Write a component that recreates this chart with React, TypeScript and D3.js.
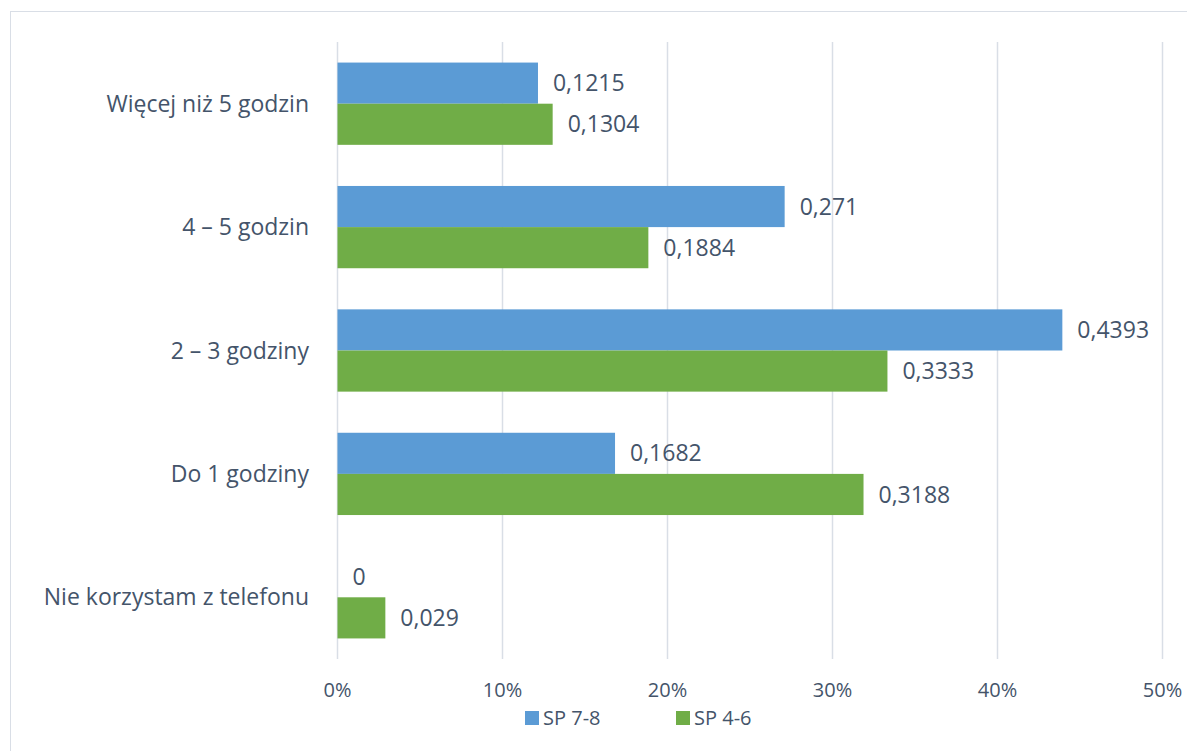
import React from "react";
import * as d3 from "d3";

const categories = [
  "Więcej niż 5 godzin",
  "4 – 5 godzin",
  "2 – 3 godziny",
  "Do 1 godziny",
  "Nie korzystam z telefonu",
];
const seriesNames = ["SP 7-8", "SP 4-6"];
const sp78 = [0.1215, 0.271, 0.4393, 0.1682, 0];
const sp46 = [0.1304, 0.1884, 0.3333, 0.3188, 0.029];
const xTicks = [0, 0.1, 0.2, 0.3, 0.4, 0.5];
const colors = ["#5B9BD5", "#70AD47"];

const W = 1187;
const H = 751;
const textColor = "#44546A";
const font = "'Open Sans', Lato, sans-serif";

export default function App() {
  const left = 337.5;
  const right = 1162.5;
  const top = 42;
  const bottom = 659;
  const x = d3.scaleLinear().domain([0, 0.5]).range([left, right]);
  const y = d3.scaleBand().domain(categories).range([top, bottom]).paddingInner(1 / 3).paddingOuter(1 / 6);
  const series = [sp78, sp46];
  const fmt = (v: number) => String(v).replace(".", ",");

  return (
    <svg width={W} height={H} style={{ position: "absolute", left: 0, top: 0, fontFamily: font }}>
      <rect x={0} y={0} width={W} height={H} fill="#fff" />
      <rect x={10.5} y={11.5} width={W + 10} height={H + 10} fill="none" stroke="#D9DEE6" strokeWidth={1} />
      {xTicks.map((t) => (
        <line key={t} x1={x(t)} x2={x(t)} y1={top} y2={bottom} stroke="#D9DEE6" strokeWidth={1.5} />
      ))}
      {categories.map((c, i) => {
        const y0 = y(c)!;
        const bh = y.bandwidth() / 2;
        return (
          <g key={c}>
            {series.map((s, k) => (
              <g key={k}>
                {s[i] > 0 && (
                  <rect x={x(0)} y={y0 + k * bh} width={x(s[i]) - x(0)} height={bh} fill={colors[k]} />
                )}
                <text
                  x={x(s[i]) + 15}
                  y={y0 + k * bh + bh / 2}
                  dy="0.35em"
                  fontSize={23}
                  fill={textColor}
                >
                  {fmt(s[i])}
                </text>
              </g>
            ))}
            <text x={309} y={y0 + bh} dy="0.35em" textAnchor="end" fontSize={23} fill={textColor}>
              {c}
            </text>
          </g>
        );
      })}
      {xTicks.map((t) => (
        <text key={t} x={x(t)} y={690} dy="0.35em" textAnchor="middle" fontSize={20} fill={textColor}>
          {d3.format(".0%")(t)}
        </text>
      ))}
      {seriesNames.map((n, k) => (
        <g key={n} transform={`translate(${525 + k * 151},718)`}>
          <rect x={0} y={-7} width={14} height={14} fill={colors[k]} />
          <text x={18} y={0} dy="0.35em" fontSize={20} fill={textColor}>
            {n}
          </text>
        </g>
      ))}
    </svg>
  );
}
